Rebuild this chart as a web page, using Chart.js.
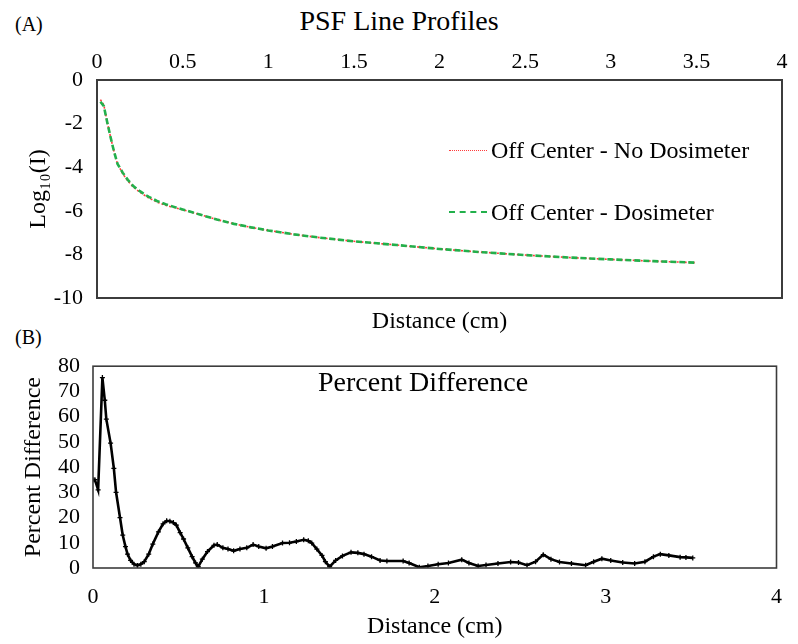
<!DOCTYPE html>
<html>
<head>
<meta charset="utf-8">
<script src="https://cdn.jsdelivr.net/npm/chart.js@4/dist/chart.umd.min.js"></script>
<style>
body{margin:0;background:#fff;width:798px;height:644px;position:relative;overflow:hidden;font-family:"Liberation Serif","Times New Roman",serif;color:#000}
.lbl{position:absolute;line-height:1;white-space:nowrap}
#topBox{position:absolute;left:0;top:0}
#botBox{position:absolute;left:0;top:340px}
.key{position:absolute;width:38px;height:0}
</style>
</head>
<body>

<div class="lbl" style="left:15px;top:14px;font-size:20px">(A)</div>
<div class="lbl" style="left:0;width:798px;text-align:center;top:7px;font-size:28px">PSF Line Profiles</div>
<div class="lbl" style="left:15px;top:327px;font-size:20px">(B)</div>

<div id="topBox"><canvas id="psfChart" width="798" height="340"></canvas></div>
<div id="botBox"><canvas id="diffChart" width="798" height="304"></canvas></div>

<!-- legend inside the top plot -->
<div class="key" style="left:449px;top:150px;border-top:1.5px dotted #ff3b3b"></div>
<div class="lbl" style="left:491px;top:138px;font-size:24px">Off Center - No Dosimeter</div>
<div class="key" style="left:449px;top:211px;border-top:2.5px dashed #22b04b"></div>
<div class="lbl" style="left:491px;top:200px;font-size:24px">Off Center - Dosimeter</div>

<div class="lbl" style="left:318px;top:368px;font-size:28px">Percent Difference</div>

<script>
/* =========================
   PSF line profiles (A)
========================= */

let distTop = [0.02,0.04,0.06,0.08,0.10,0.12,0.15,0.18,0.21,0.25,0.30,0.35,0.40,0.45,0.50,0.60,0.70,0.80,0.90,1.00,1.15,1.30,1.50,1.75,2.00,2.25,2.50,2.75,3.00,3.25,3.50];

let logNoDosimeter = [-0.9,-1.15,-1.95,-2.65,-3.3,-3.85,-4.3,-4.63,-4.9,-5.15,-5.4,-5.6,-5.75,-5.85,-5.95,-6.17,-6.4,-6.6,-6.76,-6.9,-7.08,-7.23,-7.4,-7.57,-7.75,-7.9,-8.03,-8.14,-8.23,-8.31,-8.38];

let logDosimeter = [-1.0,-1.2,-1.95,-2.65,-3.3,-3.85,-4.25,-4.58,-4.85,-5.1,-5.35,-5.55,-5.7,-5.82,-5.94,-6.17,-6.4,-6.6,-6.76,-6.9,-7.08,-7.23,-7.4,-7.57,-7.75,-7.9,-8.03,-8.14,-8.23,-8.31,-8.38];

let topXTicks = [0,0.5,1,1.5,2,2.5,3,3.5,4];
let topYTicks = [0,-2,-4,-6,-8,-10];

/* =========================
   Percent difference (B)
========================= */

let distBot = [0,0.011,0.03,0.055,0.069,0.078,0.103,0.122,0.135,0.158,0.174,0.19,0.202,0.22,0.24,0.26,0.28,0.30,0.326,0.35,0.383,0.41,0.431,0.45,0.47,0.488,0.51,0.53,0.555,0.58,0.60,0.616,0.64,0.67,0.708,0.727,0.76,0.79,0.823,0.86,0.90,0.937,0.97,1.013,1.05,1.109,1.15,1.19,1.233,1.26,1.28,1.31,1.34,1.36,1.385,1.42,1.46,1.51,1.55,1.586,1.63,1.68,1.72,1.815,1.85,1.91,1.96,2.02,2.08,2.158,2.2,2.254,2.3,2.37,2.444,2.49,2.54,2.59,2.635,2.68,2.73,2.8,2.883,2.93,2.978,3.03,3.1,3.17,3.23,3.28,3.32,3.37,3.436,3.47,3.51];

let percentDiff = [35,35,31,75.5,66.5,59,49.5,39.5,30,20,13,8.5,5.5,3,1.5,1,1.5,2.5,5.5,9.5,14.3,17.5,18.7,18.5,18,17,14,11.5,8,4.5,2,0.5,3.5,6.5,9,9.3,8,7.5,6.8,7.5,8,9.3,8.5,7.8,8.5,9.9,10,10.5,11.2,10.8,9.9,7.5,5,2.5,0.5,3,4.8,6.2,6,5.5,4.5,3,2.8,2.8,2,0.3,0.8,1.5,2,3.3,2,0.8,1.2,1.8,2.4,2.2,1.1,2.5,5.3,3.5,2.4,1.8,1.1,2.5,3.7,3,2.2,1.8,2.5,4.5,5.5,5,4.3,4.2,4];

let botXTicks = [0,1,2,3,4];
let botYTicks = [0,10,20,30,40,50,60,70,80];


const FONT = '"Liberation Serif","Times New Roman",serif';

function pairs(xs, ys){
return xs.map((x,i)=>({x:x, y:ys[i]}));
}

function fixedTicks(list){
return function(scale){
scale.ticks = list.map(v=>({value:v}));
};
}

function plainLabel(v){
return String(v);
}

// box round the plot area
const frame = {
id:"frame",
afterDatasetsDraw(chart, args, opts){
let a = chart.chartArea, c = chart.ctx;
c.save();
c.strokeStyle = opts.color;
c.lineWidth = opts.width;
c.strokeRect(a.left, a.top, a.right - a.left, a.bottom - a.top);
c.restore();
}
};

Chart.register(frame);


/* top chart */

new Chart(document.getElementById("psfChart"),{
type:"line",
data:{
datasets:[
{
label:"Off Center - No Dosimeter",
data:pairs(distTop, logNoDosimeter),
borderColor:"#ff3b3b",
borderWidth:1.6,
borderDash:[2,2],
pointRadius:0,
order:2
},
{
label:"Off Center - Dosimeter",
data:pairs(distTop, logDosimeter),
borderColor:"#22b04b",
borderWidth:2.6,
borderDash:[6,3],
pointRadius:0,
order:1
}
]
},
options:{
responsive:false,
animation:false,
devicePixelRatio:1,
layout:{padding:{left:0,right:16,top:0,bottom:0}},
plugins:{
legend:{display:false},
tooltip:{enabled:false},
frame:{color:"#3c3c3c",width:2}
},
scales:{
x:{
type:"linear",position:"top",min:0,max:4,
afterBuildTicks:fixedTicks(topXTicks),
ticks:{padding:5,color:"#000",font:{family:FONT,size:22},maxRotation:0,autoSkip:false,callback:plainLabel},
grid:{display:false,drawTicks:false},
border:{display:false},
afterFit(s){ s.height = 80; }
},
x2:{
type:"linear",position:"bottom",min:0,max:4,
ticks:{display:false},
grid:{display:false,drawTicks:false},
border:{display:false},
title:{display:true,text:"Distance (cm)",color:"#000",font:{family:FONT,size:24},padding:{top:0,bottom:3.6}},
afterFit(s){ s.height = 42; }
},
y:{
type:"linear",min:-10,max:0,
afterBuildTicks:fixedTicks(topYTicks),
ticks:{padding:14,color:"#000",font:{family:FONT,size:22},autoSkip:false,callback:plainLabel},
grid:{display:false,drawTicks:false},
border:{display:false},
title:{display:true,text:"Log\u2081\u2080(I)",color:"#000",font:{family:FONT,size:24},padding:{top:24,bottom:0}},
afterFit(s){ s.width = 97; }
}
}
}
});


/* bottom chart */

new Chart(document.getElementById("diffChart"),{
type:"line",
data:{
datasets:[{
label:"Percent Difference",
data:pairs(distBot, percentDiff),
borderColor:"#000",
borderWidth:2.6,
pointStyle:"cross",
pointRadius:2.5,
pointBorderWidth:1.3,
pointBorderColor:"#000",
pointBackgroundColor:"#000"
}]
},
options:{
responsive:false,
animation:false,
devicePixelRatio:1,
layout:{padding:{left:0,right:6,top:16,bottom:0}},
plugins:{
legend:{display:false},
tooltip:{enabled:false},
frame:{color:"#3c3c3c",width:1.6}
},
scales:{
x:{
type:"linear",position:"bottom",min:0,max:4,
afterBuildTicks:fixedTicks(botXTicks),
ticks:{padding:16,color:"#000",font:{family:FONT,size:22},maxRotation:0,autoSkip:false,callback:plainLabel},
grid:{display:false,drawTicks:false},
border:{display:false},
title:{display:true,text:"Distance (cm)",color:"#000",font:{family:FONT,size:24},padding:{top:0,bottom:2.6}},
afterFit(s){ s.height = 76; }
},
y:{
type:"linear",min:0,max:80,
afterBuildTicks:fixedTicks(botYTicks),
ticks:{padding:13,color:"#000",font:{family:FONT,size:22},autoSkip:false,callback:plainLabel},
grid:{display:false,drawTicks:false},
border:{display:false},
title:{display:true,text:"Percent Difference",color:"#000",font:{family:FONT,size:24},padding:{top:19,bottom:0}},
afterFit(s){ s.width = 93; }
}
}
}
});
</script>
</body>
</html>
